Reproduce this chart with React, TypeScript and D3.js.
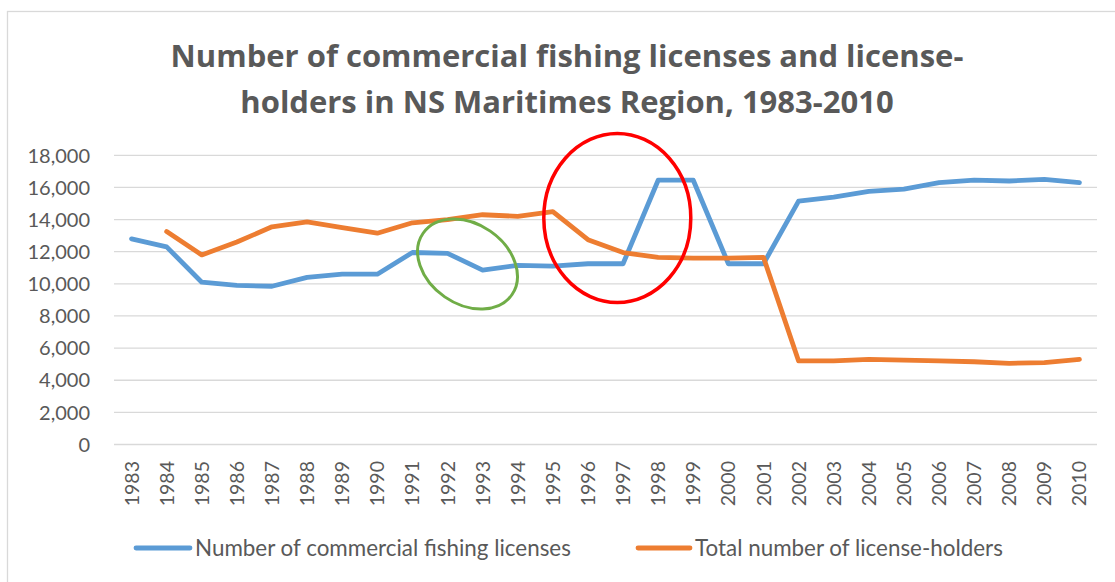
import React from "react";
import * as d3 from "d3";

const years = ["1983","1984","1985","1986","1987","1988","1989","1990","1991","1992","1993","1994","1995","1996","1997","1998","1999","2000","2001","2002","2003","2004","2005","2006","2007","2008","2009","2010"];
const licenses = [12800,12300,10100,9900,9850,10400,10600,10600,11950,11900,10850,11150,11100,11250,11250,16450,16450,11250,11250,15150,15400,15750,15900,16300,16450,16400,16500,16300];
const holders: (number | null)[] = [null,13250,11800,12600,13550,13850,13500,13150,13800,14000,14300,14200,14500,12750,11950,11650,11600,11600,11650,5200,5200,5300,5250,5200,5150,5050,5100,5300];
const yTicks = [0,2000,4000,6000,8000,10000,12000,14000,16000,18000];
const titleLines = ["Number of commercial fishing licenses and license-", "holders in NS Maritimes Region, 1983-2010"];
const seriesNames = ["Number of commercial fishing licenses", "Total number of license-holders"];

const W = 1115, H = 582;
const FONT = "Lato, 'Open Sans', sans-serif";
const TITLE_FONT = "'Open Sans', Lato, sans-serif";
const TXT = "#595959";
const BLUE = "#5b9bd5";
const ORANGE = "#ed7d31";

export default function App() {
  const x = d3.scalePoint<string>().domain(years).range([114, 1097]).padding(0.5);
  const y = d3.scaleLinear().domain([0, 18000]).range([444.5, 155.3]);
  const fmt = d3.format(",");
  const line = d3.line<number | null>()
    .defined(d => d != null)
    .x((_, i) => x(years[i]) as number)
    .y(d => y(d as number));

  return (
    <svg width={W} height={H} style={{ position: "absolute", left: 0, top: 0 }} fontFamily={FONT}>
      <rect x={0} y={0} width={W} height={H} fill="#fff" />
      <rect x={7.5} y={11.5} width={W + 10} height={H + 10} fill="none" stroke="#d9d9d9" strokeWidth={1.3} />
      {titleLines.map((t, i) => (
        <text key={i} x={567} y={67 + i * 46} textAnchor="middle" fontFamily={TITLE_FONT} fontSize={31} fontWeight={700} fill={TXT}>{t}</text>
      ))}
      {yTicks.map(v => (
        <g key={v}>
          <line x1={114} x2={1097} y1={y(v)} y2={y(v)} stroke="#d9d9d9" strokeWidth={1.3} />
          <text x={90} y={y(v)} dy="0.36em" textAnchor="end" fontSize={20} fill={TXT}>{fmt(v)}</text>
        </g>
      ))}
      {years.map(yr => (
        <text key={yr} transform={`translate(${x(yr)},461) rotate(-90)`} dy="0.36em" textAnchor="end" fontSize={19.5} fill={TXT}>{yr}</text>
      ))}
      <path d={line(licenses) || ""} fill="none" stroke={BLUE} strokeWidth={4.8} strokeLinejoin="round" strokeLinecap="round" />
      <path d={line(holders) || ""} fill="none" stroke={ORANGE} strokeWidth={4.8} strokeLinejoin="round" strokeLinecap="round" />
      <ellipse cx={467.5} cy={264} rx={54} ry={40} transform="rotate(34.7 467.5 264)" fill="none" stroke="#70ad47" strokeWidth={3} />
      <ellipse cx={617.3} cy={218} rx={73.5} ry={84.5} fill="none" stroke="#ff0000" strokeWidth={3.5} />
      <g>
        <line x1={136} x2={190} y1={548} y2={548} stroke={BLUE} strokeWidth={4.8} strokeLinecap="round" />
        <text x={195} y={548} dy="0.36em" fontSize={22.4} fill={TXT}>{seriesNames[0]}</text>
        <line x1={638} x2={690} y1={548} y2={548} stroke={ORANGE} strokeWidth={4.8} strokeLinecap="round" />
        <text x={695} y={548} dy="0.36em" fontSize={22.4} fill={TXT}>{seriesNames[1]}</text>
      </g>
    </svg>
  );
}
